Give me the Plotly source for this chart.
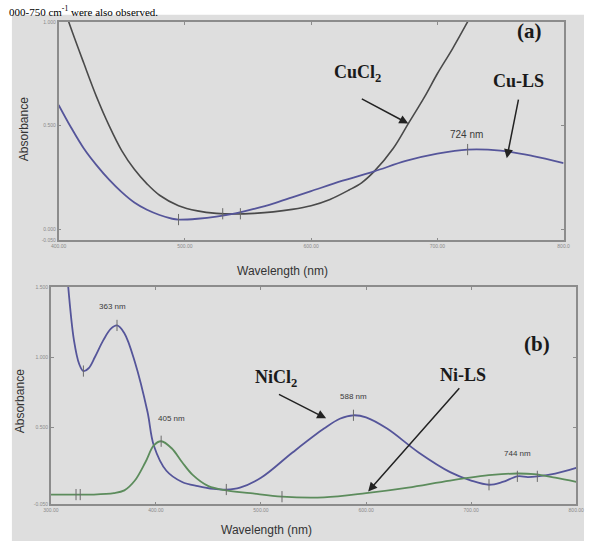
import plotly.graph_objects as go

# ---------------- data: panel (a) ----------------
cucl2_wl = [400, 408, 420, 430, 440, 450, 460, 470, 480, 495, 510, 525, 540, 555, 570,
            585, 600, 615, 630, 640, 650, 665, 677, 690, 700, 712, 724, 732]
cucl2_abs = [1.15, 1.0, 0.80, 0.64, 0.50, 0.38, 0.29, 0.22, 0.165, 0.115, 0.09, 0.078, 0.075,
             0.078, 0.085, 0.097, 0.115, 0.145, 0.19, 0.225, 0.28, 0.39, 0.51, 0.64, 0.75,
             0.87, 1.0, 1.09]
culs_wl = [400, 410, 420, 430, 440, 450, 460, 470, 480, 490, 495, 510, 525, 540, 555, 570,
           585, 600, 625, 650, 675, 700, 724, 750, 775, 800]
culs_abs = [0.60, 0.49, 0.39, 0.31, 0.24, 0.18, 0.13, 0.095, 0.07, 0.052, 0.048, 0.052,
            0.062, 0.078, 0.10, 0.125, 0.155, 0.185, 0.235, 0.28, 0.33, 0.365, 0.385, 0.38,
            0.355, 0.32]
a_peak_wl = [724]
a_peak_abs = [0.385]
a_valley_wl = [495, 530, 544]
a_valley_abs = [0.048, 0.076, 0.076]
a_xticks = [400, 500, 600, 700, 800]
a_xticktext = ["400.00", "500.00", "600.00", "700.00", "800.0"]
a_yticks = [-0.05, 0.0, 0.5, 1.0]
a_yticktext = ["-0.050", "0.000", "0.500", "1.000"]

# ---------------- data: panel (b) ----------------
nicl2_wl = [310, 316, 322, 327, 331, 336, 342, 350, 357, 363, 370, 380, 392, 398, 410, 425,
            440, 455, 467, 480, 500, 530, 560, 575, 588, 600, 620, 650, 680, 700, 717, 730,
            744, 754, 763, 780, 800]
nicl2_abs = [2.2, 1.55, 1.12, 0.95, 0.90, 0.92, 1.0, 1.12, 1.20, 1.225, 1.17, 0.965, 0.61,
             0.37, 0.19, 0.11, 0.08, 0.06, 0.056, 0.07, 0.14, 0.32, 0.49, 0.56, 0.585, 0.57,
             0.49, 0.32, 0.18, 0.12, 0.09, 0.11, 0.15, 0.145, 0.15, 0.17, 0.21]
nils_wl = [300, 320, 340, 360, 370, 380, 390, 398, 405, 415, 425, 435, 450, 467, 490, 520,
           560, 600, 640, 680, 720, 744, 760, 780, 800]
nils_abs = [0.02, 0.02, 0.02, 0.03, 0.05, 0.12, 0.25, 0.37, 0.40, 0.35, 0.25, 0.16, 0.08,
            0.05, 0.03, 0.005, 0.0, 0.03, 0.07, 0.12, 0.16, 0.17, 0.165, 0.14, 0.11]
b_peak_wl = [363, 405, 588, 744, 763]
b_peak_abs = [1.225, 0.40, 0.585, 0.15, 0.15]
b_valley_wl = [331, 467, 717, 324, 328, 520]
b_valley_abs = [0.90, 0.056, 0.09, 0.02, 0.02, 0.005]
b_xticks = [300, 400, 500, 600, 700, 800]
b_xticktext = ["300.00", "400.00", "500.00", "600.00", "700.00", "800.00"]
b_yticks = [-0.05, 0.5, 1.0, 1.5]
b_yticktext = ["-0.050", "0.500", "1.000", "1.500"]

W, H = 592, 544
BG = "#dedede"
FRAME = "#8c8c8c"
BLUE = "#55559a"
GREEN = "#5c8c5c"
DARK = "#4a4a4a"


def dom_x(x0, x1):
    return [x0 / W, x1 / W]


def dom_y(ytop, ybot):
    return [1 - ybot / H, 1 - ytop / H]


fig = go.Figure()
line_kw = dict(mode="lines", showlegend=False, hoverinfo="skip")
fig.add_trace(go.Scatter(x=cucl2_wl, y=cucl2_abs, line=dict(color=DARK, width=1.6, shape="spline"),
                         xaxis="x", yaxis="y", **line_kw))
fig.add_trace(go.Scatter(x=culs_wl, y=culs_abs, line=dict(color=BLUE, width=1.8, shape="spline"),
                         xaxis="x", yaxis="y", **line_kw))
fig.add_trace(go.Scatter(x=nicl2_wl, y=nicl2_abs, line=dict(color=BLUE, width=1.8, shape="spline"),
                         xaxis="x2", yaxis="y2", **line_kw))
fig.add_trace(go.Scatter(x=nils_wl, y=nils_abs, line=dict(color=GREEN, width=1.8, shape="spline"),
                         xaxis="x2", yaxis="y2", **line_kw))

# peak-pick markers: small ticks at peaks and valleys
mk = dict(symbol="line-ns", size=8, line=dict(color="#6a6a6a", width=1))
fig.add_trace(go.Scatter(x=a_peak_wl, y=a_peak_abs, mode="markers", marker=dict(**mk),
                         xaxis="x", yaxis="y", showlegend=False, hoverinfo="skip"))
fig.add_trace(go.Scatter(x=a_valley_wl, y=a_valley_abs, mode="markers", marker=dict(**mk),
                         xaxis="x", yaxis="y", showlegend=False, hoverinfo="skip"))
fig.add_trace(go.Scatter(x=b_peak_wl, y=b_peak_abs, mode="markers", marker=dict(**mk),
                         xaxis="x2", yaxis="y2", showlegend=False, hoverinfo="skip"))
fig.add_trace(go.Scatter(x=b_valley_wl, y=b_valley_abs, mode="markers", marker=dict(**mk),
                         xaxis="x2", yaxis="y2", showlegend=False, hoverinfo="skip"))

axis_common = dict(showline=True, linecolor=FRAME, linewidth=1.5, mirror="ticks", ticks="inside",
                   ticklen=3, tickcolor=FRAME, showgrid=False, zeroline=False,
                   tickfont=dict(size=5, color="#8a8a8a", family="Liberation Sans"))

fig.update_layout(
    width=W, height=H, margin=dict(l=0, r=0, t=0, b=0),
    paper_bgcolor="white", plot_bgcolor=BG,
    xaxis=dict(domain=dom_x(52, 571), range=[400, 800], tickvals=a_xticks, ticktext=a_xticktext,
               anchor="y", **axis_common),
    yaxis=dict(domain=dom_y(19, 240), range=[-0.052, 1.0], tickvals=a_yticks, ticktext=a_yticktext,
               anchor="x", **axis_common),
    xaxis2=dict(domain=dom_x(44, 584), range=[300, 800], tickvals=b_xticks, ticktext=b_xticktext,
                anchor="y2", **axis_common),
    yaxis2=dict(domain=dom_y(287, 507), range=[-0.05, 1.5], tickvals=b_yticks, ticktext=b_yticktext,
                anchor="x2", **axis_common),
)

# gray page background behind the figure
fig.add_shape(type="rect", xref="paper", yref="paper", x0=4 / W, x1=1, y0=0, y1=1 - 12 / H,
              fillcolor=BG, line=dict(width=0), layer="below")

serif_b = dict(family="Liberation Serif", size=18, color="#1a1a1a")
small = dict(family="Liberation Sans", size=10, color="#3a3a3a")
small_b = dict(family="Liberation Sans", size=8, color="#3a3a3a")
title_f = dict(family="Liberation Sans", size=12, color="#333333")
arrow_kw = dict(text="", showarrow=True, arrowhead=2, arrowsize=1.2, arrowwidth=1.5, arrowcolor="#222")
ctr = dict(xanchor="center", yanchor="middle", showarrow=False)

ann = []
# line of text from the page above the figure
ann.append(dict(text="000-750 cm<sup>-1</sup> were also observed.", xref="paper", yref="paper",
                x=0, y=1, xanchor="left", yanchor="top", showarrow=False, borderpad=0,
                font=dict(family="Liberation Serif", size=11, color="black")))
# panel (a)
ann += [
    dict(text="<b>(a)</b>", x=773, y=0.957, xref="x", yref="y", **ctr,
         font=dict(family="Liberation Serif", size=21, color="#1a1a1a")),
    dict(text="<b>CuCl<sub>2</sub></b>", x=637, y=0.75, xref="x", yref="y", **ctr, font=serif_b),
    dict(text="<b>Cu-LS</b>", x=764, y=0.714, xref="x", yref="y", **ctr, font=serif_b),
    dict(text="724 nm", x=723, y=0.457, xref="x", yref="y", **ctr, font=small),
    dict(x=677, y=0.51, ax=639, ay=0.633, xref="x", yref="y", axref="x", ayref="y", **arrow_kw),
    dict(x=755, y=0.343, ax=764.5, ay=0.633, xref="x", yref="y", axref="x", ayref="y", **arrow_kw),
    dict(text="Absorbance", x=16 / W, y=1 - 128 / H, xref="paper", yref="paper", textangle=-90,
         **ctr, font=title_f),
    dict(text="Wavelength (nm)", x=282 / W, y=1 - 271 / H, xref="paper", yref="paper",
         **ctr, font=title_f),
]
# panel (b)
ann += [
    dict(text="<b>(b)</b>", x=763, y=1.09, xref="x2", yref="y2", **ctr,
         font=dict(family="Liberation Serif", size=21, color="#1a1a1a")),
    dict(text="<b>NiCl<sub>2</sub></b>", x=514, y=0.845, xref="x2", yref="y2", **ctr, font=serif_b),
    dict(text="<b>Ni-LS</b>", x=692, y=0.873, xref="x2", yref="y2", **ctr, font=serif_b),
    dict(text="363 nm", x=359, y=1.36, xref="x2", yref="y2", **ctr, font=small_b),
    dict(text="405 nm", x=415, y=0.563, xref="x2", yref="y2", **ctr, font=small_b),
    dict(text="588 nm", x=588, y=0.718, xref="x2", yref="y2", **ctr, font=small_b),
    dict(text="744 nm", x=744, y=0.31, xref="x2", yref="y2", **ctr, font=small_b),
    dict(x=562, y=0.563, ax=515.7, ay=0.739, xref="x2", yref="y2", axref="x2", ayref="y2", **arrow_kw),
    dict(x=602, y=0.042, ax=690, ay=0.789, xref="x2", yref="y2", axref="x2", ayref="y2", **arrow_kw),
    dict(text="Absorbance", x=12 / W, y=1 - 403 / H, xref="paper", yref="paper", textangle=-90,
         **ctr, font=title_f),
    dict(text="Wavelength (nm)", x=266 / W, y=1 - 533 / H, xref="paper", yref="paper",
         **ctr, font=title_f),
]
fig.update_layout(annotations=ann)

# remove the browser's default 8px body margin so the figure sits at the window corner
fig.write_html("out.html", config={"displayModeBar": False},
               post_script="document.body.style.margin='0';document.body.style.overflow='hidden';")
